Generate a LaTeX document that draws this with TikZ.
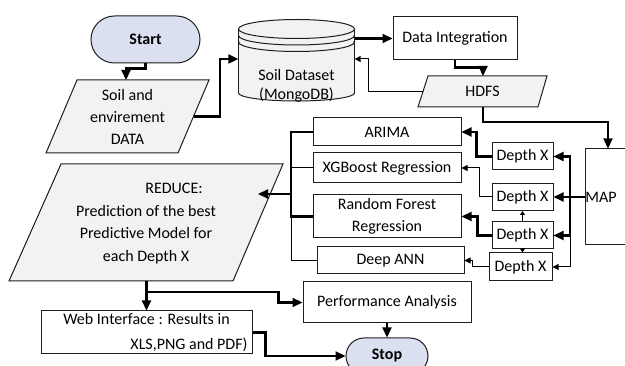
\documentclass[tikz,border=0pt]{standalone}
\usepackage{fontspec}
\setmainfont{Carlito}
\usetikzlibrary{arrows.meta,calc,shapes.misc}
\definecolor{termfill}{RGB}{218,224,240}
\definecolor{iofill}{RGB}{242,242,242}
\definecolor{edge}{RGB}{30,30,30}

\begin{document}
\begin{tikzpicture}[x=1pt,y=-1pt,
  txt/.style={font=\fontsize{16}{22.5}\selectfont, text=black, inner sep=0pt, align=center},
  box/.style={txt, draw=edge, line width=1pt, fill=white, rectangle},
  term/.style={txt, draw=edge, line width=1pt, fill=termfill, rounded rectangle,
    font=\fontsize{16}{22.5}\selectfont\bfseries},
  io/.style={draw=edge, line width=1pt, fill=iofill},
  wire/.style={draw=black, line width=2.2pt},
  thinwire/.style={draw=black, line width=1pt},
  flow/.style={wire, -{Triangle[length=10pt,width=9pt]}},
  thinflow/.style={thinwire, -{Triangle[length=6pt,width=6pt]}},
  tinyflow/.style={thinwire, -{Triangle[length=4pt,width=5pt]}},
]
\useasboundingbox (0,0) rectangle (625,366);

% ---------- start and input data ----------
\node[term, minimum width=109pt, minimum height=47pt] (start) at (145.5,39.5) {Start};

\draw[io] (77,80) -- (209,80) -- (178,153) -- (46,153) -- cycle;
\node[txt, font=\fontsize{16}{22}\selectfont] (soil) at (127.5,117) {Soil and\\envirement\\DATA};
\coordinate (soilN) at (126,80);
\coordinate (soilE) at (193.5,116.5);

% ---------- database cylinder ----------
\draw[io] (296.5,93) ellipse [x radius=58pt, y radius=8pt];
\fill[iofill] (238.5,29) rectangle (354.5,93);
\draw[edge, line width=1pt] (238.5,29) -- (238.5,93) (354.5,29) -- (354.5,93);
\draw[io] (296.5,29) ellipse [x radius=58pt, y radius=9.5pt];
\begin{scope}
  \clip (236,35.5) rectangle (357,60);
  \draw[edge, line width=1pt] (296.5,35.5) ellipse [x radius=58pt, y radius=9.5pt];
\end{scope}
\begin{scope}
  \clip (236,42) rectangle (357,60);
  \draw[edge, line width=1pt] (296.5,42) ellipse [x radius=58pt, y radius=9.5pt];
\end{scope}
\node[minimum width=116pt, minimum height=80pt, inner sep=0pt] (db) at (296.5,59) {};
\node[txt, font=\fontsize{16}{19}\selectfont] (dbtxt) at (296.5,86) {Soil Dataset\\(MongoDB)};

% ---------- integration and HDFS ----------
\node[box, minimum width=124pt, minimum height=43pt] (di) at (455,38.5) {Data Integration};

\draw[io] (428,76) -- (547,76) -- (538,107) -- (418,107) -- cycle;
\node[txt] (hdfs) at (482.5,91.5) {HDFS};
\coordinate (hdfsN) at (483,76);
\coordinate (hdfsW) at (423,91.5);
\coordinate (hdfsS) at (483,107);

% ---------- map stage ----------
\node[box, minimum width=46pt, minimum height=96pt] (map) at (608,197) {\hspace*{-14pt}MAP};

\node[box, minimum width=61pt, minimum height=27pt] (dx1) at (522.5,156.5) {Depth X};
\node[box, minimum width=61pt, minimum height=27pt] (dx2) at (522.5,197) {Depth X};
\node[box, minimum width=61pt, minimum height=27pt] (dx3) at (522.5,235.5) {Depth X};
\node[box, minimum width=63pt, minimum height=28pt] (dx4) at (520.5,267) {Depth X};
\coordinate (bus) at (570,197);

% ---------- models ----------
\node[box, minimum width=148pt, minimum height=28pt] (arima) at (387,132) {ARIMA};
\node[box, minimum width=148pt, minimum height=30pt] (xgb) at (387,168) {XGBoost Regression};
\node[box, minimum width=148pt, minimum height=43pt] (rf) at (387,216.5) {Random Forest\\Regression};
\node[box, minimum width=147pt, minimum height=27pt] (ann) at (390.5,260.5) {Deep ANN};
\coordinate (rbus) at (291,194);

% ---------- reduce stage ----------
\draw[io] (61,164) -- (283,164) -- (233,281) -- (9,281) -- cycle;
\node[txt] (reduce) at (146,223.5)
  {\hspace*{56pt}REDUCE:\\Prediction of the best\\Predictive Model for\\each Depth X};
\coordinate (reduceE) at (258,194);
\coordinate (reduceS) at (146.5,281);
\coordinate (split) at (146.5,292);

% ---------- outputs ----------
\node[box, minimum width=211pt, minimum height=43pt, font=\fontsize{16}{25}\selectfont] (web)
  at (146.5,332.5) {Web Interface : Results in\\\hspace*{85pt}XLS,PNG and PDF)};
\node[box, minimum width=168pt, minimum height=41pt] (perf) at (387,302.5) {Performance Analysis};
\node[term, minimum width=82pt, minimum height=36pt] (stop) at (387,356) {Stop};

% ---------- connectors ----------
\draw[flow] (start.south) -- ++(0,5) -| (soilN);
\draw[flow] (soilE) -- ++(26.5,0) |- (db.west);
\draw[flow] (db.east |- di.west) -- (di.west);
\draw[flow] (di.south) -- ++(0,7) -| (hdfsN);
\draw[thinflow] (hdfsW) -- ++(-55,0) |- (db.east);
\draw[flow] (hdfsS) -- ++(0,15) -| (map.north);

\draw[flow] (map.west) -- (dx2.east);
\draw[flow] (bus) |- (dx1.east);
\draw[flow] (bus) |- (dx3.east);
\draw[thinflow] (bus |- dx3.east) |- (dx4.east);
\draw[tinyflow] (dx3.north) -- (dx2.south);
\draw[tinyflow] (dx3.south) -- (dx3.south |- dx4.north);

\draw[flow] (dx1.west) -- ++(-15,0) |- (arima.east);
\draw[thinflow] (dx2.west) -- ++(-12,0) |- (xgb.east);
\draw[flow] (dx3.west) -- ++(-14,0) |- (rf.east);
\draw[thinflow] (dx4.west) -- ++(-16,0) |- (ann.east);

\draw[wire] (arima.west) -- (arima.west -| rbus) -- (rf.west -| rbus) -- (rf.west);
\draw[thinwire] (xgb.west) -- (xgb.west -| rbus);
\draw[thinwire] (rf.west -| rbus) |- (ann.west);
\draw[flow] (rbus) -- (reduceE);

\draw[flow] (reduceS) -- (web.north);
\draw[flow] (split) -| ($(perf.west)+(-24,0)$) -- (perf.west);
\draw[flow] (perf.south) -- (stop.north);
\draw[flow] (web.east) -- ++(13,0) |- (stop.west);
\end{tikzpicture}
\end{document}
